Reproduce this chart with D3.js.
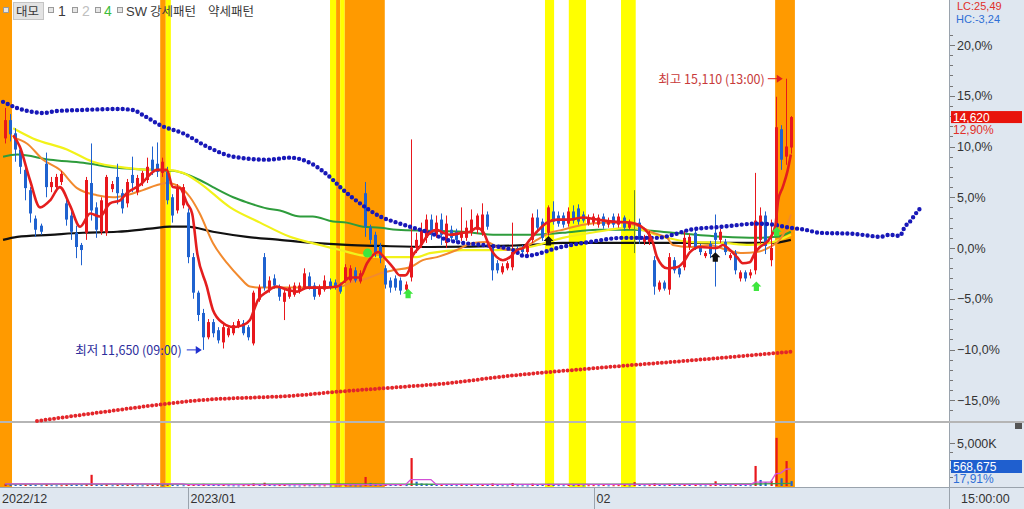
<!DOCTYPE html>
<html><head><meta charset="utf-8">
<script src="https://cdn.jsdelivr.net/npm/d3@7"></script>
<style>body{margin:0;background:#fff;}svg{display:block;font-family:"Liberation Sans",Arial,sans-serif;}</style>
</head><body><svg id="c" width="1024" height="509"></svg>
<script>
// ---- data (percent change vs. base 12,950; 120-minute candles) ----
const opens=[10.8,12.6,11.3,9.7,7.7,5.7,2.9,2.2,8.3,6.0,
6.0,6.5,4.4,3.2,1.5,0.3,1.5,6.4,4.0,1.6,
1.5,5.8,7.0,5.4,4.4,7.2,5.5,6.4,6.7,8.7,
8.3,7.4,7.5,5.0,3.7,4.2,3.5,-0.9,-4.4,-6.4,
-8.8,-7.3,-8.1,-9.3,-8.6,-8.4,-7.7,-7.4,-7.8,-9.4,
-5.1,-0.9,-4.1,-3.0,-3.9,-5.3,-4.8,-4.6,-4.3,-3.9,
-2.8,-3.7,-4.6,-4.1,-3.3,-3.4,-3.7,-3.2,-3.2,-2.2,
-3.3,5.4,2.0,1.3,0.2,-2.0,-3.2,-3.0,-3.2,-4.1,
-2.9,0.0,0.3,1.0,2.8,1.3,2.8,0.5,1.8,1.6,
1.0,1.0,1.5,1.8,1.5,3.3,0.0,-1.5,-2.4,-2.0,
-1.9,0.0,0.0,-0.4,0.8,3.0,2.6,1.5,3.6,3.2,
3.2,2.4,3.6,3.9,3.3,2.4,2.5,2.3,3.1,2.3,
3.1,2.3,3.0,2.0,2.0,2.5,0.6,0.6,-1.2,-4.1,
-3.4,-4.1,-1.2,-2.0,-1.9,0.1,1.5,0.1,-0.8,0.4,
1.5,0.8,0.6,-1.0,-0.5,-3.0,-2.4,-2.7,-2.2,0.8,
3.2,-1.2,2.0,11.7,9.0,9.9];
const highs=[13.8,13.2,11.8,10.0,8.0,6.0,3.2,2.4,9.4,7.0,
7.3,7.6,5.0,3.6,2.2,0.5,7.0,10.3,4.5,5.0,
7.2,6.6,8.3,5.8,6.8,9.0,7.2,7.6,8.9,10.0,
10.4,8.9,8.0,5.3,6.3,6.3,3.9,-0.5,-4.2,-6.0,
-7.0,-7.0,-7.8,-7.5,-7.6,-7.3,-7.0,-7.1,-7.6,-4.2,
-3.6,-0.5,-2.8,-2.6,-3.6,-4.1,-3.6,-3.4,-3.4,-2.0,
-2.4,-3.4,-3.6,-2.7,-3.0,-3.1,-3.4,-1.6,-1.7,-1.9,
-2.2,6.5,2.3,1.6,0.5,-1.7,-2.9,-2.7,-2.9,-3.3,
10.7,1.5,2.5,3.3,3.3,3.2,3.4,3.2,2.2,1.9,
4.0,2.7,3.8,3.4,4.4,3.6,0.4,-1.2,-1.5,-1.3,
2.5,0.2,0.3,0.5,3.4,3.8,2.9,4.2,4.6,3.6,
3.5,4.0,4.2,4.3,3.6,3.3,3.4,3.3,3.4,3.0,
3.4,3.4,3.2,2.8,5.7,2.9,1.3,1.7,-0.8,-3.2,
-3.2,-0.5,-0.9,-1.8,1.7,1.4,1.8,0.4,-0.3,0.7,
3.3,1.9,0.9,-0.5,-0.2,-2.2,-2.2,-2.1,7.4,4.0,
3.6,2.8,14.9,12.1,16.68,13.0];
const lows=[10.3,10.5,8.5,7.3,4.7,2.5,1.1,1.3,5.0,5.5,
5.6,6.2,2.2,0.8,-1.0,-1.7,0.8,2.7,1.0,1.3,
1.2,5.5,4.3,3.4,4.0,5.5,5.2,6.1,6.4,7.2,
7.0,7.0,4.3,2.5,3.4,3.9,-1.5,-5.0,-7.2,-10.04,
-9.0,-8.8,-9.4,-9.9,-8.8,-8.6,-7.9,-8.6,-9.1,-9.6,
-5.3,-4.2,-4.4,-4.0,-5.2,-7.1,-5.0,-4.8,-4.5,-4.1,
-4.1,-5.1,-4.8,-4.3,-4.1,-4.1,-4.5,-3.4,-3.4,-3.4,
-3.5,1.1,0.4,-0.9,-1.5,-4.0,-4.4,-4.2,-4.6,-4.4,
-3.3,-0.5,0.0,0.5,0.8,1.0,0.3,0.0,0.7,0.5,
0.7,0.7,1.2,1.4,1.2,1.8,-3.2,-2.5,-2.6,-2.2,
-2.2,-0.6,-0.7,-0.6,0.5,1.7,0.7,1.2,2.3,2.1,
2.0,2.1,2.4,2.3,2.5,2.2,2.2,2.0,1.9,2.0,
2.0,2.0,1.7,1.8,-0.5,0.4,0.3,0.3,-4.6,-4.3,
-4.2,-4.6,-2.5,-2.9,-2.2,-0.2,-0.2,-0.7,-1.0,-1.0,
-3.8,0.5,-0.7,-1.2,-2.6,-3.3,-3.3,-3.0,-2.6,0.4,
-0.6,-1.8,1.5,7.7,8.2,9.3];
const closes=[12.6,11.2,9.7,8.0,5.9,3.4,1.8,1.6,6.0,6.5,
7.0,7.3,2.8,1.6,0.1,-0.2,6.7,3.7,1.8,4.7,
7.0,6.3,5.4,3.9,6.5,6.4,6.9,7.4,8.0,7.6,
7.5,8.5,4.7,3.2,6.0,6.0,-0.9,-4.4,-6.6,-8.8,
-7.3,-8.4,-9.1,-7.8,-7.9,-7.6,-7.2,-8.4,-8.8,-4.4,
-3.9,-3.9,-3.2,-3.7,-4.8,-4.4,-3.9,-3.7,-3.7,-2.5,
-3.9,-4.8,-3.9,-3.2,-3.9,-3.9,-4.3,-1.9,-2.0,-3.2,
-2.5,2.1,0.8,-0.5,-1.0,-3.6,-3.9,-3.9,-4.2,-3.6,
0.1,0.8,1.7,2.8,1.3,2.5,1.3,2.4,1.0,0.8,
1.6,2.0,2.8,3.2,3.3,2.1,-2.2,-2.2,-1.8,-1.5,
-0.4,-0.3,-0.4,0.2,3.0,2.0,1.0,4.0,2.6,2.4,
2.3,3.6,2.7,2.6,2.7,3.0,3.1,3.0,2.2,2.7,
2.3,3.1,2.0,2.5,2.0,0.8,1.0,1.4,-3.8,-3.4,
-4.0,-0.9,-2.2,-2.6,1.0,1.1,0.1,-0.4,-0.5,-0.6,
0.8,1.6,-0.4,-0.7,-2.2,-2.4,-3.0,-2.4,2.7,3.2,
0.2,0.0,11.9,8.7,10.0,12.9];
// volume in thousands of shares
const volumes=[250,180,150,120,160,140,110,90,200,100,
80,90,150,130,120,100,200,1300,150,120,
180,90,140,110,130,160,90,80,110,150,
170,100,160,140,100,90,180,220,200,250,
150,120,110,130,90,80,70,100,110,300,
150,380,120,100,110,130,80,70,60,90,
80,90,70,80,60,60,70,100,90,80,
70,1050,350,250,180,200,150,120,130,110,
3250,500,300,260,220,180,200,160,120,100,
250,120,150,130,200,140,300,110,90,80,
350,90,80,70,280,150,120,250,150,100,
90,120,100,110,80,90,100,90,110,80,
90,100,110,80,450,200,90,100,320,120,
100,250,130,110,200,120,130,90,80,100,
550,150,120,80,160,120,110,90,2330,700,
450,600,5600,900,2900,568.675];
// moving averages, read as [candle index, percent]
const maShort=[[1.6,11.1],[2.9,10.0],[4.9,6.7],[6.9,4.0],[8.9,4.7],[10.8,6.0],[12.8,4.2],[14.8,2.1],[16.8,3.4],[18.7,3.1],[20.7,4.4],[22.7,4.7],[24,5.4],[26.6,6.2],[30,7.7],[31.9,7.7],[33.1,6.0],[34.5,5.9],[35.9,4.4],[36.9,3.4],[37.9,-0.5],[39.8,-3.8],[41,-6.1],[43,-7.4],[45,-7.8],[46.9,-7.6],[48.3,-7.1],[49.1,-6.1],[49.9,-5.1],[51.7,-4.3],[53.6,-3.8],[55.6,-4.1],[57.6,-4.3],[59.6,-3.9],[63.5,-3.9],[65.5,-3.8],[66.7,-3.4],[68,-2.9],[70,-2.9],[71.4,-1.5],[72.6,-0.7],[73.6,-0.4],[74.9,-1.0],[76.5,-1.9],[77.9,-2.7],[78.9,-2.7],[79.7,-2.2],[80.3,-0.9],[81.8,0.1],[83.8,1.5],[85.2,1.8],[86.4,1.5],[87.8,1.3],[90.3,1.5],[91.7,1.6],[93.1,2.0],[94.3,1.6],[95.6,0.1],[97,-0.9],[98.2,-1.2],[99.6,-0.9],[101,-0.2],[102.2,0.0],[103.5,0.8],[104.9,1.6],[106.9,2.5],[108.9,2.8],[111.4,2.8],[114,3.0],[116.8,2.8],[119.9,2.6],[123.3,2.5],[125.8,2.0],[127.8,0.5],[128.6,-0.9],[130.6,-2.0],[132.5,-1.9],[134.1,-1.2],[135.1,-0.4],[137.1,0.1],[140.4,0.0],[141.6,0.3],[143,-0.2],[144.4,-0.9],[145.5,-1.5],[146.9,-1.4],[147.9,-0.5],[148.9,0.1],[150.3,0.6],[151.9,2.1],[152.5,4.7],[153.4,6.0],[154.3,7.5],[155,9.2]];
const maMid=[[1.6,10.9],[4.3,10.3],[7.5,8.7],[10.8,7.7],[14.2,5.9],[18.1,5.2],[21.3,5.0],[24,5.2],[27.2,5.7],[30,6.2],[31.9,6.4],[34.5,6.0],[36.5,5.0],[38.4,3.4],[41,0.5],[43.8,-1.5],[46.3,-2.9],[48.3,-3.8],[50.3,-3.9],[58.2,-3.9],[66.1,-3.8],[68.6,-3.3],[71.4,-3.0],[74,-2.5],[76.5,-2.2],[79.9,-1.9],[82.4,-1.2],[85.2,-0.9],[89.1,-0.2],[92.3,0.5],[95.1,0.6],[97,0.1],[99.6,-0.2],[102.2,0.0],[104.9,0.8],[107.5,1.5],[110,1.8],[114,2.3],[117.9,2.5],[121.9,2.5],[125.2,2.1],[127.8,1.5],[130.6,1.0],[131.7,0.3],[135.1,0.1],[139,0.3],[142.4,-0.2],[145.5,-0.5],[148.3,-0.4],[150.9,0.1],[152.8,0.8],[154,1.8],[155,3.3]];
const ma20=[[1.6,11.8],[5.5,10.8],[12.2,9.7],[17.3,8.5],[24,7.9],[28.6,7.7],[31.9,7.7],[35.1,7.4],[38.4,6.4],[44.4,4.0],[50.3,2.5],[56.2,1.1],[62.1,0.3],[66.1,-0.2],[70,-0.7],[74,-0.9],[81.2,-0.9],[83.8,-0.5],[90.3,-0.2],[97,-0.2],[103.5,0.1],[110,1.0],[116.8,1.6],[123.3,2.0],[129.8,1.1],[135.1,0.6],[141.6,0.5],[146.9,0.3],[150.9,0.5],[155,1.3]];
const ma60=[[-0.4,9.0],[2.4,9.2],[8.9,8.7],[15.4,8.4],[22.1,7.9],[28.6,7.7],[33.1,7.6],[38.4,6.7],[41,6.0],[45,5.0],[47.7,4.5],[51.7,3.9],[54.2,3.7],[58.2,3.1],[60.7,3.1],[64.7,2.6],[67.4,2.5],[70.6,2.1],[74,2.0],[77.3,1.8],[83.8,1.7],[90.3,1.6],[97,1.3],[103.5,1.3],[110,1.5],[116.8,1.8],[123.9,1.8],[131.7,1.5],[141.6,1.1],[148.3,1.0],[152.3,1.1],[155,1.6]];
const ma120=[[-0.4,0.8],[2.4,1.1],[8.9,1.3],[15.4,1.5],[22.1,1.6],[28.6,1.9],[32.5,2.1],[35.9,2.1],[41,1.6],[47.7,1.1],[54.2,0.8],[60.7,0.5],[67.4,0.3],[74,0.2],[83.8,0.1],[103.5,0.3],[110,0.5],[123.3,0.5],[129.8,0.5],[141.6,0.5],[151.5,0.5],[155,0.8]];
const upperBand=[[-0.4,14.4],[2.35,13.8],[5.5,13.4],[7.5,13.3],[10.2,13.5],[15.4,13.6],[22.1,13.7],[25.2,13.6],[27.2,13.1],[30.6,12.1],[35.1,11.3],[39.8,10.0],[45,9.0],[51.7,8.7],[56.2,8.9],[60.1,8.4],[64.7,6.7],[66.1,6.0],[70,4.4],[74,3.1],[77.3,2.5],[80.5,2.0],[83.8,1.5],[87.2,0.8],[90.3,0.5],[94.3,0.3],[100.2,-0.2],[102.5,-0.8],[104.9,-0.6],[108.9,0.0],[115.4,0.6],[121.9,1.0],[128.6,1.0],[131.7,1.3],[135.1,1.8],[141.6,2.1],[148.3,2.4],[151.5,2.3],[154.8,2.0],[157.8,1.8],[160.7,1.5],[167.2,1.4],[170.6,1.2],[172.6,1.1],[174.5,1.3],[176.5,1.2],[177.5,2.1],[178.5,2.6],[179.5,3.3],[180.5,3.9]];
const lowerBand=[[6.3,-17.05],[18.7,-16.2],[38.4,-15.0],[58.2,-14.5],[64.7,-14.2],[77.9,-13.7],[87.8,-13.3],[97.6,-12.7],[117.3,-11.8],[137.1,-11.0],[155.4,-10.2]];
const volMaA=[[0,250],[35,250],[36,150],[79,150],[80,750],[84,750],[85,200],[147,200],[148,450],[151,450],[152,1400],[153,1500],[154,1950],[155,2000]];
const volMaB=[[0,220],[60,230],[100,200],[147,230],[155,300]];
// signal bands [from index, to index, kind]
const bands=[[-1,1.37,"o"],[30.6,31.7,"o"],[31.7,32.7,"y"],[64.1,65.3,"y"],[65.3,66.1,"o"],[66.1,67.0,"y"],[67.0,74.9,"o"],[106.5,108.3,"y"],[111.2,114.6,"y"],[121.5,124.4,"y"],[151.9,155.8,"o"]];
// pattern markers [index, percent, kind]
const markers=[[71.5,-0.5,"gc"],[79.5,-4.5,"g"],[148.2,-3.8,"g"],[152.2,1.6,"g"],[107.2,0.7,"k"],[140.1,-0.9,"k"]];
const pctTicks=[20,15,10,5,0,-5,-10,-15];
const dateTicks=[["2022/12",-1],["2023/01",35.5],["02",115.6]];

// ---- drawing ----
const svg=d3.select("#c");
const W=949;
const x=d3.scaleLinear().domain([-1,186]).range([0,948]);
const y=d3.scaleLinear().domain([0,20]).range([248,45]);
const yv=d3.scaleLinear().domain([0,5000]).range([486,443]);
const RED="#e8171d", BLUE="#1f62cf";
const fmt=v=>d3.format(".1f")(v).replace(".",",")+"%";
const fmt2=v=>d3.format(".2f")(v).replace(".",",")+"%";

svg.append("rect").attr("width",1024).attr("height",509).attr("fill","#fff");
svg.append("g").selectAll("rect").data(bands).join("rect")
  .attr("x",d=>x(d[0])).attr("width",d=>x(d[1])-x(d[0]))
  .attr("y",0).attr("height",487).attr("fill",d=>d[2]==="o"?"#ff9a00":"#ffff00");
svg.append("rect").attr("x",W).attr("y",0).attr("width",1024-W).attr("height",509).attr("fill","#dfe7f0");
svg.append("rect").attr("x",0).attr("y",487).attr("width",1024).attr("height",22).attr("fill","#dfe7f0");
svg.append("line").attr("x1",W+0.5).attr("x2",W+0.5).attr("y1",0).attr("y2",509).attr("stroke","#9aa3ad");
svg.append("line").attr("x1",0).attr("x2",1024).attr("y1",487.5).attr("y2",487.5).attr("stroke","#9aa3ad");
svg.append("line").attr("x1",0).attr("x2",1024).attr("y1",422).attr("y2",422).attr("stroke","#b5b5b5").attr("stroke-width",2);

const line=d3.line().x(d=>x(d[0])).y(d=>y(d[1])).curve(d3.curveMonotoneX);
const vline=d3.line().x(d=>x(d[0])).y(d=>yv(d[1]));
svg.append("path").attr("d",line(lowerBand)).attr("fill","none").attr("stroke","#e3262a")
  .attr("stroke-width",4).attr("stroke-linecap","round").attr("stroke-dasharray","0 4.3");
[[ma120,"#111",2.2],[ma60,"#2e9c3c",2],[ma20,"#f2f21a",2.2],[maMid,"#f28a2e",2]].forEach(([d,c,w])=>{
  svg.append("path").attr("d",line(d)).attr("fill","none").attr("stroke",c).attr("stroke-width",w);
});
const cand=svg.append("g");
opens.forEach((o,i)=>{
  const c=closes[i], col=c>o?RED:(c<o?BLUE:"#6b8f2a");
  const cx=Math.round(x(i))+0.5;
  cand.append("line").attr("x1",cx).attr("x2",cx).attr("y1",y(highs[i])).attr("y2",y(lows[i])).attr("stroke",col);
  const top=y(Math.max(o,c)), h=Math.max(1,Math.abs(y(o)-y(c)));
  if(c!==o) cand.append("rect").attr("x",cx-1.5).attr("width",3).attr("y",top).attr("height",h).attr("fill",col);
});
svg.append("path").attr("d",line(upperBand)).attr("fill","none").attr("stroke","#1818b8")
  .attr("stroke-width",4.4).attr("stroke-linecap","round").attr("stroke-dasharray","0 5.07");
svg.append("path").attr("d",line(maShort)).attr("fill","none").attr("stroke","#e41e1e").attr("stroke-width",2.6);
const arrow="M0,-5L5,0L2.6,0L2.6,4.5L-2.6,4.5L-2.6,0L-5,0Z";
markers.forEach(([i,p,k])=>{
  const g=svg.append("g").attr("transform",`translate(${x(i)},${y(p)})`);
  if(k==="gc") g.append("circle").attr("r",4.5).attr("fill","#3ee63e");
  else g.append("path").attr("d",arrow).attr("fill",k==="g"?"#3ee63e":"#111");
});
volumes.forEach((v,i)=>{
  const col=(i>0&&v<volumes[i-1])?BLUE:RED;
  svg.append("rect").attr("x",Math.round(x(i))-0.5).attr("width",2.2).attr("y",yv(v)).attr("height",Math.max(1,yv(0)-yv(v))).attr("fill",col);
});
svg.append("path").attr("d",vline(volMaB)).attr("fill","none").attr("stroke","#3c9a4a").attr("stroke-width",1.3);
svg.append("path").attr("d",vline(volMaA)).attr("fill","none").attr("stroke","#d24fd6").attr("stroke-width",1.3);

// annotations
const hi=154, lo=39;
svg.append("text").attr("x",x(hi)-21).attr("y",y(highs[hi])+5).attr("text-anchor","end")
  .attr("font-family","Noto Sans CJK KR").attr("font-size",12.5).attr("fill","#c83a3a").text("최고 15,110 (13:00)");
svg.append("line").attr("x1",x(hi)-18).attr("x2",x(hi)-6).attr("y1",y(highs[hi])).attr("y2",y(highs[hi])).attr("stroke","#e02020");
svg.append("path").attr("d",`M${x(hi)-3},${y(highs[hi])}l-6,-4l0,8z`).attr("fill","#e02020");
svg.append("text").attr("x",x(lo)-21).attr("y",y(lows[lo])+5).attr("text-anchor","end")
  .attr("font-family","Noto Sans CJK KR").attr("font-size",12.5).attr("fill","#2d2d9c").text("최저 11,650 (09:00)");
svg.append("line").attr("x1",x(lo)-16).attr("x2",x(lo)-4).attr("y1",y(lows[lo])).attr("y2",y(lows[lo])).attr("stroke","#2030d0");
svg.append("path").attr("d",`M${x(lo)-1},${y(lows[lo])}l-6,-4l0,8z`).attr("fill","#2030d0");

// right axis
const ax=svg.append("g").attr("font-size",12.5).attr("fill","#333");
d3.range(-17,23).forEach(v=>{
  if(y(v)<26||y(v)>418) return;
  ax.append("line").attr("x1",W+1).attr("x2",W+(v%5===0?6:4)).attr("y1",Math.round(y(v))+0.5).attr("y2",Math.round(y(v))+0.5).attr("stroke","#777");
});
pctTicks.forEach(v=>ax.append("text").attr("x",957).attr("y",y(v)+4.5).text(fmt(v)));
[1000,2000,3000,4000,5000].forEach(v=>ax.append("line").attr("x1",W+1).attr("x2",W+(v===5000?6:4)).attr("y1",Math.round(yv(v))+0.5).attr("y2",Math.round(yv(v))+0.5).attr("stroke","#777"));
ax.append("text").attr("x",957).attr("y",yv(5000)+4.5).text("5,000K");
svg.append("text").attr("x",957).attr("y",10).attr("font-size",11).attr("fill","#e0302a").text("LC:25,49");
svg.append("text").attr("x",956).attr("y",22.6).attr("font-size",11).attr("fill","#2f6fd6").text("HC:-3,24");
const last=closes[closes.length-1];
svg.append("rect").attr("x",951).attr("y",y(last)-6).attr("width",71).attr("height",12).attr("fill","#e8140c");
svg.append("text").attr("x",953).attr("y",y(last)+4.5).attr("font-size",12).attr("fill","#fff").text("14,620");
svg.append("text").attr("x",953).attr("y",y(last)+17).attr("font-size",12).attr("fill","#e0302a").text(fmt2(last));
const lv=volumes[volumes.length-1];
svg.append("rect").attr("x",951).attr("y",460).attr("width",71).attr("height",13).attr("fill","#1f5fcf");
svg.append("text").attr("x",953).attr("y",471).attr("font-size",12).attr("fill","#fff").text(d3.format(",")(Math.round(lv*1000)));
svg.append("text").attr("x",953).attr("y",483).attr("font-size",12).attr("fill","#2f6fd6").text("17,91%");
svg.append("rect").attr("x",1015).attr("y",423).attr("width",7).attr("height",6).attr("fill","#555");
// bottom axis
dateTicks.forEach(([t,i])=>{
  const px=Math.round(x(i+0.5))+0.5;
  if(i>0) svg.append("line").attr("x1",px).attr("x2",px).attr("y1",488).attr("y2",509).attr("stroke","#9aa3ad");
  svg.append("text").attr("x",i>0?px+2:2).attr("y",503).attr("font-size",12.5).attr("fill","#333").text(t);
});
svg.append("text").attr("x",961).attr("y",503).attr("font-size",12.5).attr("fill","#333").text("15:00:00");

// header legend
const hd=svg.append("g").attr("font-size",14).attr("fill","#3a3a3a");
[3,48,72,95,117].forEach(px=>hd.append("rect").attr("x",px+0.5).attr("y",7.5).attr("width",5).attr("height",5).attr("fill","#e6e6e6").attr("stroke","#9a9a9a"));
hd.append("rect").attr("x",13.5).attr("y",2.5).attr("width",30).attr("height",17).attr("fill","#e3e3e3").attr("stroke","#c4c4c4");
hd.append("text").attr("x",16).attr("y",16).attr("font-family","Noto Sans CJK KR").attr("font-size",12.5).text("대모");
hd.append("text").attr("x",58).attr("y",16).text("1");
hd.append("text").attr("x",82).attr("y",16).attr("fill","#c0c0c0").text("2");
hd.append("text").attr("x",104).attr("y",16).attr("fill","#3cbc3c").text("4");
hd.append("text").attr("x",126).attr("y",16).attr("font-size",13).text("SW");
hd.append("text").attr("x",150).attr("y",16).attr("font-family","Noto Sans CJK KR").attr("font-size",12.5).text("강세패턴");
hd.append("text").attr("x",208).attr("y",16).attr("font-family","Noto Sans CJK KR").attr("font-size",12.5).text("약세패턴");
</script></body></html>
